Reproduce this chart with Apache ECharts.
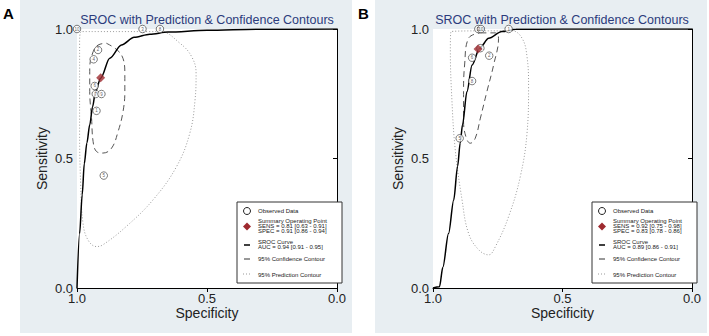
<!DOCTYPE html>
<html>
<head>
<meta charset="UTF-8">
<title>SROC with Prediction & Confidence Contours</title>
<script src="https://cdn.jsdelivr.net/npm/echarts@6/dist/echarts.min.js"></script>
<style>
html,body{margin:0;padding:0;background:#fff;}
#main{width:709px;height:336px;}
</style>
</head>
<body>
<div id="main"></div>
<script>
// [specificity, sensitivity] pairs
var tickValues = [0, 0.5, 1];

// ---- panel A ----
var studiesA = [[1.0,1.0,'10'],[0.748,1.0,'3'],[0.681,1.0,'8'],[0.919,0.919,'2'],[0.936,0.883,'4'],
  [0.932,0.780,'6'],[0.928,0.749,'7'],[0.906,0.749,'9'],[0.925,0.684,'1'],[0.897,0.434,'5']];
var summaryA = [[0.909,0.812]];
var srocA = [[1.0,0.0],[0.99,0.21],[0.98,0.36],[0.972,0.48],[0.962,0.56],[0.951,0.63],[0.94,0.70],
  [0.929,0.758],[0.909,0.81],[0.874,0.887],[0.829,0.938],[0.78,0.968],[0.72,0.98],[0.65,0.988],
  [0.5,0.995],[0.3,0.999],[0.0,1.0]];
var confA = [[0.887,0.945],[0.829,0.90],[0.816,0.823],[0.816,0.758],[0.823,0.681],[0.842,0.604],
  [0.867,0.540],[0.90,0.521],[0.925,0.527],[0.938,0.565],[0.944,0.656],[0.951,0.758],[0.951,0.848],
  [0.938,0.912],[0.919,0.938],[0.887,0.945]];
var predA = [[0.85,0.99],[0.68,0.99],[0.604,0.945],[0.559,0.893],[0.542,0.829],[0.546,0.726],
  [0.566,0.598],[0.617,0.469],[0.707,0.341],[0.81,0.238],[0.90,0.167],[0.925,0.16],[0.958,0.186],
  [0.977,0.251],[0.986,0.405],[0.99,0.598],[0.99,0.79],[0.99,0.945],[0.983,0.99],[0.85,0.99]];
var legendTextA = ['Observed Data','Summary Operating Point','SENS = 0.81 [0.63 - 0.91]',
  'SPEC = 0.91 [0.86 - 0.94]','SROC Curve','AUC = 0.94 [0.91 - 0.95]',
  '95% Confidence Contour','95% Prediction Contour'];

// ---- panel B ----
var studiesB = [[0.825,1.0,'3'],[0.815,1.0,'10'],[0.708,1.0,'1'],[0.817,0.926,'4'],[0.783,0.897,'2'],
  [0.849,0.889,'6'],[0.849,0.799,'8'],[0.897,0.578,'5']];
var summaryB = [[0.826,0.923]];
var srocB = [[1.0,0.0],[0.975,0.005],[0.962,0.08],[0.94,0.21],[0.92,0.34],[0.905,0.47],[0.895,0.56],
  [0.886,0.63],[0.869,0.758],[0.849,0.861],[0.82,0.926],[0.785,0.964],[0.734,0.99],[0.68,0.999],
  [0.5,1.0],[0.0,1.0]];
var confB = [[0.817,0.985],[0.759,0.985],[0.747,0.964],[0.766,0.861],[0.792,0.758],[0.817,0.656],
  [0.837,0.578],[0.856,0.559],[0.871,0.578],[0.882,0.642],[0.882,0.758],[0.878,0.861],[0.863,0.964],
  [0.817,0.985]];
var predB = [[0.80,0.993],[0.695,0.993],[0.656,0.964],[0.637,0.893],[0.631,0.777],[0.637,0.598],
  [0.663,0.43],[0.708,0.276],[0.759,0.16],[0.785,0.128],[0.824,0.148],[0.863,0.212],[0.888,0.341],
  [0.914,0.533],[0.927,0.726],[0.933,0.919],[0.93,0.99],[0.80,0.993]];
var legendTextB = ['Observed Data','Summary Operating Point','SENS = 0.92 [0.75 - 0.98]',
  'SPEC = 0.83 [0.78 - 0.86]','SROC Curve','AUC = 0.89 [0.86 - 0.91]',
  '95% Confidence Contour','95% Prediction Contour'];

var font = 'Liberation Sans, Arial, sans-serif';
var chart = echarts.init(document.getElementById('main'), null, {renderer: 'svg'});

var grids = [
  {left: 77, top: 29, width: 260, height: 259, show: true, backgroundColor: '#fff', borderWidth: 0},
  {left: 433, top: 29, width: 259, height: 259, show: true, backgroundColor: '#fff', borderWidth: 0}
];

function axis(i, isX) {
  return {
    type: 'value', gridIndex: i, min: 0, max: 1, interval: 0.5, inverse: isX,
    name: isX ? 'Specificity' : 'Sensitivity', nameLocation: 'middle',
    nameGap: isX ? 18 : 28, nameMoveOverlap: false,
    nameTextStyle: {fontSize: 14, color: '#222', fontFamily: font},
    axisLine: {show: true, lineStyle: {color: '#000', width: 1}},
    axisTick: {show: true, length: 4, lineStyle: {color: '#000'}},
    axisLabel: {fontSize: 13, color: '#222', margin: 4, fontFamily: font,
      formatter: function (v) { return v.toFixed(1); }},
    splitLine: {show: false}
  };
}

function panelSeries(i, studies, summary, sroc, conf, pred) {
  return [
    {type: 'line', xAxisIndex: i, yAxisIndex: i, data: pred, smooth: 0.4, symbol: 'none',
      lineStyle: {color: '#9a9a9a', width: 1, type: [1, 2]}, silent: true},
    {type: 'line', xAxisIndex: i, yAxisIndex: i, data: conf, smooth: 0.4, symbol: 'none',
      lineStyle: {color: '#555', width: 1, type: [6, 4]}, silent: true},
    {type: 'line', xAxisIndex: i, yAxisIndex: i, data: sroc, smooth: 0.3, smoothMonotone: 'x',
      symbol: 'none', lineStyle: {color: '#000', width: 1.5}, silent: true},
    {type: 'scatter', xAxisIndex: i, yAxisIndex: i, data: studies, clip: false,
      symbol: 'circle', symbolSize: 7.5,
      itemStyle: {color: '#fff', borderColor: '#333', borderWidth: 0.8},
      label: {show: true, position: 'inside', fontSize: 4.5, color: '#333', fontFamily: font,
        formatter: function (p) { return p.data[2]; }}, z: 5},
    {type: 'scatter', xAxisIndex: i, yAxisIndex: i, data: summary, clip: false,
      symbol: 'diamond', symbolSize: [9, 9], itemStyle: {color: '#9e2a2f'}, z: 6}
  ];
}

function panelGraphics(dx, letter, legendText) {
  var cx = 247 + dx, tx = 258 + dx;
  var t = function (s, y) {
    return {type: 'text', z: 101, style: {text: s, x: tx, y: y, fontSize: 6, fill: '#222',
      fontFamily: font, verticalAlign: 'middle'}};
  };
  return [
    {type: 'rect', z: -10, shape: {x: 20 + dx, y: 0, width: 332, height: 333}, style: {fill: '#e8eef2'}},
    {type: 'text', style: {text: letter, x: 3 + dx, y: 13, fontSize: 15, fontWeight: 'bold',
      fill: '#000', fontFamily: font, verticalAlign: 'middle'}},
    {type: 'text', style: {text: 'SROC with Prediction & Confidence Contours', x: 207 + dx, y: 20,
      fontSize: 12.5, fill: '#2b3b7c', fontFamily: font, align: 'center', verticalAlign: 'middle'}},
    {type: 'rect', z: 100, shape: {x: 237 + dx, y: 202, width: 105, height: 81},
      style: {fill: '#fff', stroke: '#333', lineWidth: 1}},
    {type: 'circle', z: 101, shape: {cx: cx, cy: 211, r: 3.5}, style: {fill: '#fff', stroke: '#222', lineWidth: 1}},
    {type: 'polygon', z: 101, shape: {points: [[cx, 222.5], [cx + 4, 226.5], [cx, 230.5], [cx - 4, 226.5]]},
      style: {fill: '#9e2a2f'}},
    {type: 'line', z: 101, shape: {x1: cx - 3, y1: 245, x2: cx + 3, y2: 245}, style: {stroke: '#000', lineWidth: 1.5}},
    {type: 'line', z: 101, shape: {x1: cx - 3, y1: 259, x2: cx + 3, y2: 259}, style: {stroke: '#333', lineWidth: 1}},
    {type: 'line', z: 101, shape: {x1: cx - 4, y1: 274, x2: cx + 4, y2: 274},
      style: {stroke: '#999', lineWidth: 1, lineDash: [1, 2]}},
    t(legendText[0], 211), t(legendText[1], 221), t(legendText[2], 226), t(legendText[3], 231),
    t(legendText[4], 241.5), t(legendText[5], 247), t(legendText[6], 259), t(legendText[7], 274.5)
  ];
}

var option = {
  backgroundColor: '#fff',
  animation: false,
  grid: grids,
  xAxis: [axis(0, true), axis(1, true)],
  yAxis: [axis(0, false), axis(1, false)],
  series: panelSeries(0, studiesA, summaryA, srocA, confA, predA)
    .concat(panelSeries(1, studiesB, summaryB, srocB, confB, predB)),
  graphic: panelGraphics(0, 'A', legendTextA).concat(panelGraphics(355, 'B', legendTextB))
};
chart.setOption(option);
</script>
</body>
</html>
